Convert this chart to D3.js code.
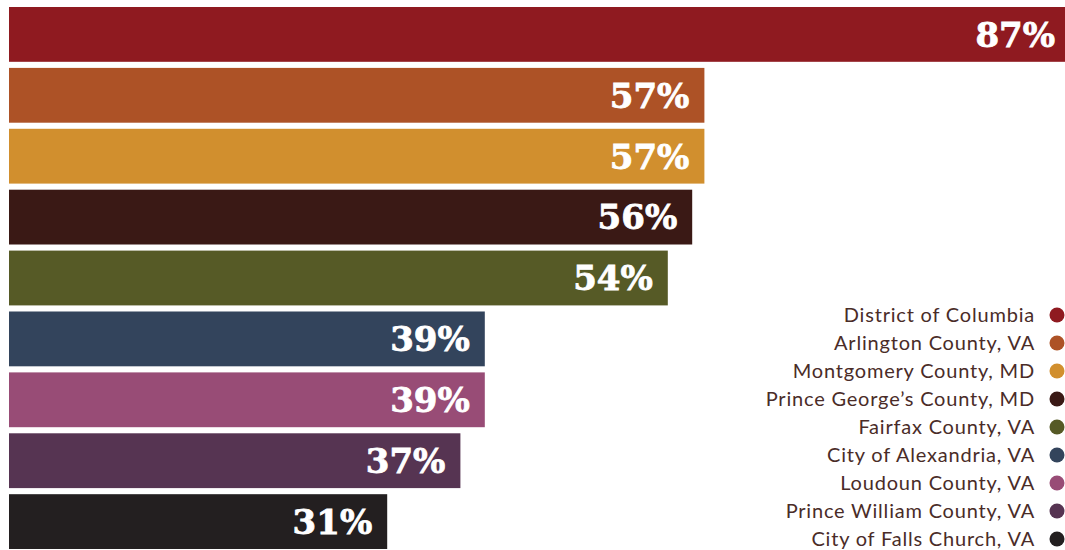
<!DOCTYPE html>
<html>
<head>
<meta charset="utf-8">
<script src="https://cdn.jsdelivr.net/npm/d3@7/dist/d3.min.js"></script>
<style>
  html, body { margin: 0; padding: 0; background: #fff; }
  svg { display: block; }
</style>
</head>
<body>
<svg id="chart" width="1065" height="550"></svg>
<script>
const categories = [
  "District of Columbia",
  "Arlington County, VA",
  "Montgomery County, MD",
  "Prince George\u2019s County, MD",
  "Fairfax County, VA",
  "City of Alexandria, VA",
  "Loudoun County, VA",
  "Prince William County, VA",
  "City of Falls Church, VA"
];
const values = [87, 57, 57, 56, 54, 39, 39, 37, 31];
const colors = ["#8f1a20", "#ad5226", "#d18f2e", "#3a1915", "#565a26", "#33445c", "#984c76", "#563452", "#231f20"];

const svg = d3.select("#chart");

const x = d3.scaleLinear().domain([0, 100]).range([9, 9 + 1220]);
const y = d3.scaleBand().domain(categories).range([7, 549]).paddingInner(0.1).paddingOuter(0);
const color = d3.scaleOrdinal().domain(categories).range(colors);

const bars = svg.append("g");
bars.selectAll("rect")
  .data(categories)
  .join("rect")
  .attr("x", x(0))
  .attr("y", d => y(d))
  .attr("width", (d, i) => x(values[i]) - x(0))
  .attr("height", y.bandwidth())
  .attr("fill", d => color(d));

const labelSize = 34;
bars.selectAll("text")
  .data(categories)
  .join("text")
  .attr("x", (d, i) => Math.min(x(values[i]), 1070) - 15)
  .attr("y", d => y(d) + y.bandwidth() / 2 + labelSize * 0.729 / 2)
  .attr("text-anchor", "end")
  .attr("fill", "#ffffff")
  .attr("stroke", "#ffffff")
  .attr("stroke-width", 0.8)
  .attr("font-family", "'DejaVu Serif', serif")
  .attr("font-weight", "bold")
  .attr("font-size", labelSize)
  .text((d, i) => values[i] + "%");

const legendY = d3.scalePoint().domain(categories).range([315, 539]);
const legend = svg.append("g");
legend.selectAll("circle")
  .data(categories)
  .join("circle")
  .attr("cx", 1057)
  .attr("cy", d => legendY(d))
  .attr("r", 7.5)
  .attr("fill", d => color(d));

legend.selectAll("text")
  .data(categories)
  .join("text")
  .attr("x", 1035)
  .attr("y", d => legendY(d))
  .attr("dy", "0.36em")
  .attr("text-anchor", "end")
  .attr("fill", "#4a2c28")
  .attr("font-family", "Lato, 'Open Sans', sans-serif")
  .attr("font-size", 20)
  .attr("letter-spacing", 0.8)
  .text(d => d);
</script>
</body>
</html>
